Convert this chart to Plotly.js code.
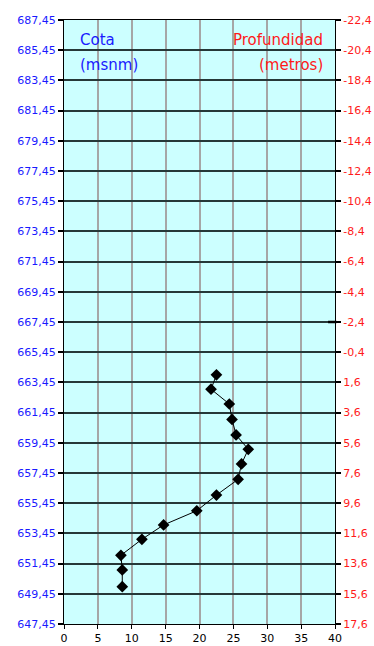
<!DOCTYPE html>
<html>
<head>
<meta charset="utf-8">
<script src="https://cdn.plot.ly/plotly-3.0.1.min.js"></script>
<style>html,body{margin:0;padding:0;background:#fff;}#chart{width:374px;height:646px;}</style>
</head>
<body>
<div id="chart"></div>
<script>
// Data
var valorX = [22.5, 21.7, 24.4, 24.8, 25.4, 27.2, 26.2, 25.7, 22.5, 19.6, 14.7, 11.5, 8.4, 8.6, 8.6];
var cota   = [663.95, 663.0, 662.02, 661.0, 659.97, 659.02, 658.05, 657.03, 655.99, 654.95, 654.01, 653.06, 652.0, 651.03, 649.92];
var marcaX = [39.6];
var marcaY = [667.45];

var cotaTicks = [647.45,649.45,651.45,653.45,655.45,657.45,659.45,661.45,663.45,665.45,667.45,669.45,671.45,673.45,675.45,677.45,679.45,681.45,683.45,685.45,687.45];
var cotaLabels = ["647,45","649,45","651,45","653,45","655,45","657,45","659,45","661,45","663,45","665,45","667,45","669,45","671,45","673,45","675,45","677,45","679,45","681,45","683,45","685,45","687,45"];
var profTicks = [17.6,15.6,13.6,11.6,9.6,7.6,5.6,3.6,1.6,-0.4,-2.4,-4.4,-6.4,-8.4,-10.4,-12.4,-14.4,-16.4,-18.4,-20.4,-22.4];
var profLabels = ["17,6","15,6","13,6","11,6","9,6","7,6","5,6","3,6","1,6","-0,4","-2,4","-4,4","-6,4","-8,4","-10,4","-12,4","-14,4","-16,4","-18,4","-20,4","-22,4"];
var xTicks = [0,5,10,15,20,25,30,35,40];

var traces = [
  {x: valorX, y: cota, type: 'scatter', mode: 'lines+markers',
   line: {color: '#000', width: 1},
   marker: {symbol: 'diamond', size: 9, color: '#000'},
   hoverinfo: 'skip', showlegend: false},
  {x: marcaX, y: marcaY, type: 'scatter', mode: 'markers', cliponaxis: false,
   marker: {symbol: 'line-ew-open', size: 6, color: '#000', line: {color: '#000', width: 2.5}},
   hoverinfo: 'skip', showlegend: false},
  {x: [null], y: [null], yaxis: 'y2', type: 'scatter', mode: 'markers', showlegend: false, hoverinfo: 'skip'}
];

var layout = {
  width: 374, height: 646,
  margin: {l: 64, r: 39, t: 20, b: 22},
  paper_bgcolor: '#ffffff',
  plot_bgcolor: '#ccffff',
  showlegend: false,
  font: {family: 'DejaVu Sans', size: 11},
  xaxis: {
    range: [0, 40], tickvals: xTicks, ticktext: xTicks.map(String),
    showgrid: true, gridcolor: '#a6a6a6', gridwidth: 2,
    zeroline: false, showline: true, linecolor: '#000', linewidth: 1, mirror: true,
    ticks: 'outside', ticklen: 4, tickcolor: '#000', tickwidth: 1,
    tickfont: {family: 'DejaVu Sans', size: 11, color: '#000'}, fixedrange: true
  },
  yaxis: {
    range: [647.45, 687.45], tickvals: cotaTicks, ticktext: cotaLabels,
    showgrid: true, gridcolor: '#263838', gridwidth: 2,
    zeroline: false, showline: true, linecolor: '#000', linewidth: 1, mirror: true,
    ticks: 'outside', ticklen: 5, tickcolor: '#000', tickwidth: 2,
    tickfont: {family: 'DejaVu Sans', size: 11, color: '#1a1aff'}, fixedrange: true
  },
  yaxis2: {
    overlaying: 'y', side: 'right',
    range: [17.6, -22.4], tickvals: profTicks, ticktext: profLabels,
    showgrid: false, zeroline: false, showline: false,
    ticks: 'outside', ticklen: 5, tickcolor: '#000', tickwidth: 2,
    tickfont: {family: 'DejaVu Sans', size: 11, color: '#ff1a1a'}, fixedrange: true
  },
  annotations: [
    {x: 2.0, y: 686.1, xref: 'x', yref: 'y', text: 'Cota', showarrow: false, xanchor: 'left', yanchor: 'middle',
     font: {family: 'DejaVu Sans', size: 15, color: '#1a1aff'}},
    {x: 2.0, y: 684.47, xref: 'x', yref: 'y', text: '(msnm)', showarrow: false, xanchor: 'left', yanchor: 'middle',
     font: {family: 'DejaVu Sans', size: 15, color: '#1a1aff'}},
    {x: 38.5, y: 686.1, xref: 'x', yref: 'y', text: 'Profundidad', showarrow: false, xanchor: 'right', yanchor: 'middle',
     font: {family: 'DejaVu Sans', size: 15, color: '#ff1a1a'}},
    {x: 38.5, y: 684.47, xref: 'x', yref: 'y', text: '(metros)', showarrow: false, xanchor: 'right', yanchor: 'middle',
     font: {family: 'DejaVu Sans', size: 15, color: '#ff1a1a'}}
  ]
};

Plotly.newPlot('chart', traces, layout, {staticPlot: true, displayModeBar: false});
</script>
</body>
</html>
